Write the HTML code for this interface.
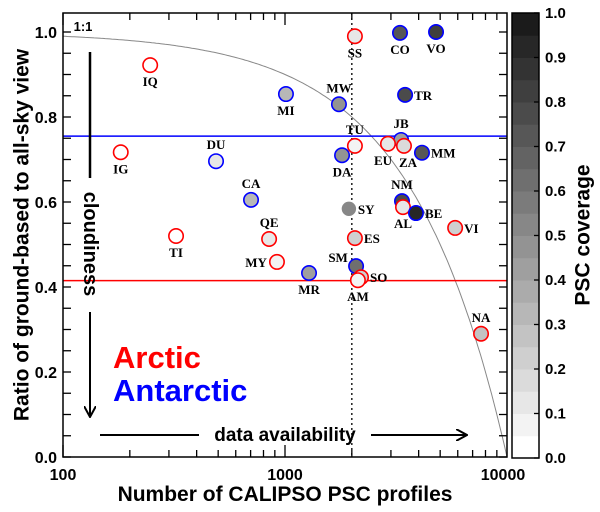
<!DOCTYPE html>
<html><head><meta charset="utf-8"><style>
body{margin:0;background:#fff}
svg{display:block}
.lab{font-family:"Liberation Serif",serif;font-weight:bold;font-size:13px}
.tk{font-family:"Liberation Sans",sans-serif;font-weight:bold;font-size:15px}
.ti{font-family:"Liberation Sans",sans-serif;font-weight:bold;font-size:20px}
</style></head><body>
<svg id="c" width="600" height="512" xmlns="http://www.w3.org/2000/svg"></svg>
<script>
const names=["SS","IQ","MI","MW","IG","DU","DA","TU","CA","SY","QE","ES","CO","VO","TR","JB","EU","ZA","MM","NM","AL","BE","VI","TI","MY","MR","SM","SO","AM","NA"];
const profiles=[2065,247,1010,1750,182,489,1807,2065,703,1940,848,2065,3296,4790,3475,3334,2910,3435,4140,3365,3400,3890,5840,323,920,1283,2090,2200,2130,7640];
const ratios=[0.99,0.922,0.854,0.83,0.717,0.696,0.71,0.732,0.605,0.584,0.513,0.515,0.998,1.0,0.852,0.746,0.737,0.732,0.716,0.602,0.588,0.574,0.539,0.52,0.459,0.433,0.449,0.423,0.416,0.29];
const coverage=[0.1,0,0.3,0.45,0,0.1,0.45,0.05,0.3,0.5,0.1,0.2,0.7,0.8,0.75,0.4,0.1,0.15,0.7,0.75,0.1,0.9,0.2,0,0.05,0.4,0.6,0.2,0.05,0.25];
const region=["A","A","S","S","A","S","S","A","S","N","A","A","S","S","S","S","A","A","S","S","A","S","A","A","A","S","S","A","A","A"];
const labelPos=["b","b","b","a","b","a","b","a","a","r","a","r","b","b","r","a","bl","br","r","a","b","r","r","b","l","b","la","r","b","a"];
const xTicks=[100,1000,10000];
const yTicks=[0,0.2,0.4,0.6,0.8,1.0];
const cbTicks=[0,0.1,0.2,0.3,0.4,0.5,0.6,0.7,0.8,0.9,1.0];
const arcticMean=0.415, antarcticMean=0.755, profileThreshold=2000;

const L=63,R=507,T=13,B=457;
const X=v=>L+(Math.log10(v)-2)/2*(R-L);
const Y=v=>B-v*425;
const gray=v=>{const c=Math.round(255-240*v);return `rgb(${c},${c},${c})`;};
const svg=document.getElementById('c');
const NS="http://www.w3.org/2000/svg";
function el(t,a,p){const e=document.createElementNS(NS,t);for(const k in a)e.setAttribute(k,a[k]);(p||svg).appendChild(e);return e;}
function tx(s,x,y,cls,anchor,extra){const e=el('text',Object.assign({x:x,y:y,class:cls,'text-anchor':anchor||'middle'},extra||{}));e.textContent=s;return e;}

const defs=el('defs',{});
const mk=el('marker',{id:'ah',markerWidth:12,markerHeight:12,refX:11,refY:6,orient:'auto',markerUnits:'userSpaceOnUse'},defs);
el('path',{d:'M0,0 L11,6 L0,12',fill:'none',stroke:'#000','stroke-width':2},mk);
const clip=el('clipPath',{id:'pc'},defs);el('rect',{x:L,y:T,width:R-L,height:B-T},clip);

let d="";for(let i=0;i<=200;i++){const lv=2+2*i/200;const v=Math.pow(10,lv);d+=(i?"L":"M")+X(v).toFixed(1)+","+Y(1-v/10000).toFixed(1);}
let e=el('path',{d:d,fill:'none',stroke:'#888','stroke-width':1,'clip-path':'url(#pc)'});

e=tx("1:1",83,31,"tk","middle",{style:'font-size:13px'});

e=el('line',{x1:L,x2:R,y1:Y(antarcticMean),y2:Y(antarcticMean),stroke:'#0000ff','stroke-width':1.5});

e=el('line',{x1:L,x2:R,y1:Y(arcticMean),y2:Y(arcticMean),stroke:'#ff0000','stroke-width':1.5});

e=el('line',{x1:X(profileThreshold),x2:X(profileThreshold),y1:T,y2:B,stroke:'#000','stroke-width':1.3,'stroke-dasharray':'2,3'});


e=el('line',{x1:90,x2:90,y1:52,y2:178,stroke:'#000','stroke-width':2.5});
e=el('line',{x1:90,x2:90,y1:312,y2:417,stroke:'#000','stroke-width':2,'marker-end':'url(#ah)'});
e=tx("cloudiness",90,244,"tk","middle",{style:'font-size:20px',transform:'rotate(90 90 244)','dominant-baseline':'central'});
e=el('line',{x1:100,x2:199,y1:435,y2:435,stroke:'#000','stroke-width':2});
e=el('line',{x1:371,x2:467,y1:435,y2:435,stroke:'#000','stroke-width':2,'marker-end':'url(#ah)'});
e=tx("data availability",285,441,"tk","middle",{style:'font-size:19px'});
e=tx("Arctic",113,368,"tk","start",{style:'font-size:31px',fill:'#ff0000'});
e=tx("Antarctic",113,401,"tk","start",{style:'font-size:31px',fill:'#0000ff'});

for(let i=0;i<names.length;i++){
  const cx=X(profiles[i]),cy=Y(ratios[i]);
  const stroke=region[i]=="A"?"#ff0000":region[i]=="S"?"#0000ff":"none";
  const c=el('circle',{cx:cx,cy:cy,r:7.2,fill:gray(coverage[i]),stroke:stroke,'stroke-width':1.6});
  
  
  const p=labelPos[i];let lx=cx,ly=cy,an='middle';
  if(p=="b"){ly=cy+21;}else if(p=="a"){ly=cy-12;}else if(p=="r"){lx=cx+9;ly=cy+5;an='start';}
  else if(p=="l"){lx=cx-10;ly=cy+5;an='end';}else if(p=="bl"){lx=cx-5;ly=cy+21;}else if(p=="br"){lx=cx+4;ly=cy+21;}
  else if(p=="la"){lx=cx-18;ly=cy-4;}
  const t=tx(names[i],lx,ly,"lab",an);
  
  
}

e=el('rect',{x:L,y:T,width:R-L,height:B-T,fill:'none',stroke:'#000','stroke-width':1.5});
for(let dec=100;dec<10000;dec*=10){for(let m=1;m<10;m++){const x=X(dec*m);const len=m==1?12:7;
  el('line',{x1:x,x2:x,y1:B,y2:B-len,stroke:'#000','stroke-width':1.3});el('line',{x1:x,x2:x,y1:T,y2:T+len,stroke:'#000','stroke-width':1.3});}}
xTicks.forEach(v=>{const t=tx(String(v),X(v)+(v==10000?-4:0),480,"tk","middle",{style:'font-size:16px'});});
for(let k=0;k<=20;k++){const y=Y(k*0.05);el('line',{x1:L,x2:L+8,y1:y,y2:y,stroke:'#000','stroke-width':1.3});el('line',{x1:R,x2:R-8,y1:y,y2:y,stroke:'#000','stroke-width':1.3});}
yTicks.forEach(v=>{const t=tx(v.toFixed(1),57,Y(v)+6,"tk","end",{style:'font-size:16px'});});
e=tx("Number of CALIPSO PSC profiles",285,501,"ti","middle",{style:'font-size:21px'});
e=tx("Ratio of ground-based to all-sky view",0,0,"ti","middle",{style:'font-size:21px',transform:'translate(22,235) rotate(-90)','dominant-baseline':'central'});

const CL=512,CR=539,CT=13,CB=458;const CY=v=>CB-v*(CB-CT);
for(let k=0;k<20;k++){const r=el('rect',{x:CL,y:CY((k+1)*0.05),width:CR-CL,height:CY(k*0.05)-CY((k+1)*0.05)+0.5,fill:gray(k*0.05)});
  }
e=el('rect',{x:CL,y:CT,width:CR-CL,height:CB-CT,fill:'none',stroke:'#000','stroke-width':1.5});
cbTicks.forEach(v=>{el('line',{x1:CR,x2:CR-5,y1:CY(v),y2:CY(v),stroke:'#000','stroke-width':1.3});
  const t=tx(v.toFixed(1),545,CY(v)+5,"tk","start");});
e=tx("PSC coverage",0,0,"ti","middle",{style:'font-size:21px',transform:'translate(583,235) rotate(-90)','dominant-baseline':'central'});
</script>
</body></html>
